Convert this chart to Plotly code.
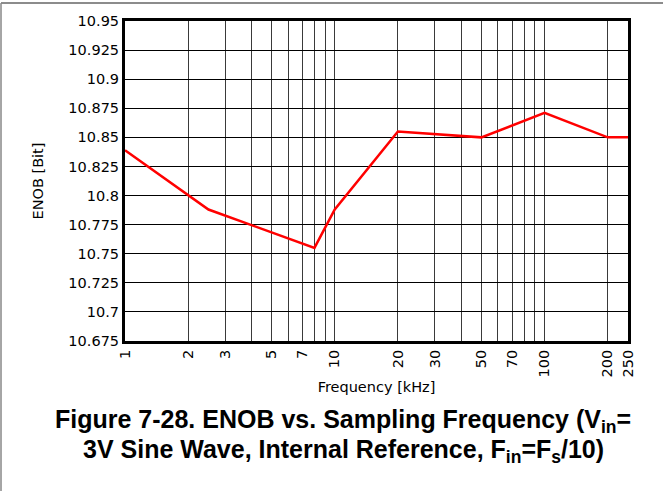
import plotly.graph_objects as go

# ENOB vs. sampling frequency
freq_khz = [1, 2.5, 8, 10, 20, 50, 100, 200, 250]
enob_bit = [10.839, 10.788, 10.755, 10.788, 10.855, 10.850, 10.871, 10.850, 10.850]

x_tick_vals = [1, 2, 3, 4, 5, 6, 7, 8, 9, 10, 20, 30, 40, 50, 60, 70, 80, 90, 100, 200, 250]
x_tick_text = ["1", "2", "3", "", "5", "", "7", "", "", "10", "20", "30", "", "50", "", "70",
               "", "", "100", "200", "250"]
y_tick_vals = [10.675, 10.7, 10.725, 10.75, 10.775, 10.8, 10.825, 10.85, 10.875, 10.9, 10.925, 10.95]
y_tick_text = ["10.675", "10.7", "10.725", "10.75", "10.775", "10.8", "10.825", "10.85",
               "10.875", "10.9", "10.925", "10.95"]

caption_lines = [
    "<b>Figure 7-28. ENOB vs. Sampling Frequency (V<sub>in</sub>=</b>",
    "<b>3V Sine Wave, Internal Reference, F<sub>in</sub>=F<sub>s</sub>/10)</b>",
]

AX_FONT = "DejaVu Sans, sans-serif"
CAP_FONT = "Liberation Sans, Arial, sans-serif"

fig = go.Figure()
fig.add_trace(go.Scatter(
    x=freq_khz, y=enob_bit, mode="lines",
    line=dict(color="#ff0000", width=2.5),
    showlegend=False, hoverinfo="skip",
))

fig.update_xaxes(
    type="log", range=[0, 2.39794],
    tickmode="array", tickvals=x_tick_vals, ticktext=x_tick_text,
    tickangle=-90, ticks="",
    showgrid=True, gridcolor="#3a3a3a", gridwidth=1,
    showline=True, linecolor="black", linewidth=3, mirror=True,
    tickfont=dict(family=AX_FONT, size=14.5, color="black"),
    title=dict(text="Frequency [kHz]", font=dict(family=AX_FONT, size=14.5, color="black"), standoff=6),
    zeroline=False,
)
fig.update_yaxes(
    range=[10.675, 10.95],
    tickmode="array", tickvals=y_tick_vals, ticktext=y_tick_text,
    ticks="", showgrid=True, gridcolor="black", gridwidth=1,
    showline=True, linecolor="black", linewidth=3, mirror=True,
    tickfont=dict(family=AX_FONT, size=14.5, color="black"),
    title=dict(text="ENOB [Bit]", font=dict(family=AX_FONT, size=14.5, color="black"), standoff=22),
    zeroline=False,
)

fig.update_layout(
    width=663, height=491,
    margin=dict(l=125, r=35, t=21, b=150),
    paper_bgcolor="white", plot_bgcolor="white",
    font=dict(family=AX_FONT, color="black"),
    annotations=[
        dict(text=caption_lines[0], xref="paper", yref="paper", x=0.4334, y=-0.25,
             xanchor="center", yanchor="middle", showarrow=False,
             font=dict(family=CAP_FONT, size=25, color="black")),
        dict(text=caption_lines[1], xref="paper", yref="paper", x=0.4334, y=-0.3438,
             xanchor="center", yanchor="middle", showarrow=False,
             font=dict(family=CAP_FONT, size=25, color="black")),
    ],
    shapes=[
        dict(type="line", xref="paper", yref="paper", x0=-0.2465, x1=1.07, y0=1.05625, y1=1.05625,
             line=dict(color="#666666", width=1.5)),
        dict(type="line", xref="paper", yref="paper", x0=-0.2465, x1=-0.2465, y0=-0.47, y1=1.05625,
             line=dict(color="#888888", width=1.5)),
    ],
)

fig.write_html("out.html", config={"displayModeBar": False},
               post_script="document.body.style.margin='0';")
